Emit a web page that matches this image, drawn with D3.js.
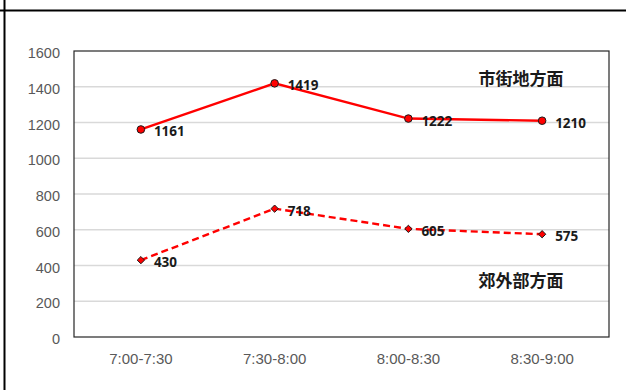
<!DOCTYPE html>
<html>
<head>
<meta charset="utf-8">
<script src="https://cdn.jsdelivr.net/npm/d3@7/dist/d3.min.js"></script>
<style>
  html, body { margin: 0; padding: 0; background: #fff; }
  svg { display: block; }
</style>
</head>
<body>
<svg id="chart" width="626" height="390"></svg>
<script>
// Traffic volume by time slot, two directions
const categories = ["7:00-7:30", "7:30-8:00", "8:00-8:30", "8:30-9:00"];
const urbanValues = [1161, 1419, 1222, 1210];     // 市街地方面
const suburbValues = [430, 718, 605, 575];        // 郊外部方面
const seriesNames = ["市街地方面", "郊外部方面"];
const yTicks = [0, 200, 400, 600, 800, 1000, 1200, 1400, 1600];

const svg = d3.select("#chart");
const W = 626, H = 390;
const plot = { left: 74, right: 609, top: 51, bottom: 337 };

// outer frame pieces
svg.append("line").attr("x1", 0).attr("x2", W).attr("y1", 10.5).attr("y2", 10.5)
  .attr("stroke", "#000").attr("stroke-width", 2.2);
svg.append("line").attr("x1", 4.5).attr("x2", 4.5).attr("y1", 0).attr("y2", H)
  .attr("stroke", "#000").attr("stroke-width", 2);

const x = d3.scaleBand().domain(categories).range([plot.left, plot.right]).padding(0);
const y = d3.scaleLinear().domain([0, 1600]).range([plot.bottom, plot.top]);
const cx = d => x(d) + x.bandwidth() / 2;

// horizontal gridlines
svg.append("g").selectAll("line").data(yTicks.filter(t => t > 0 && t < 1600)).join("line")
  .attr("x1", plot.left).attr("x2", plot.right)
  .attr("y1", d => y(d)).attr("y2", d => y(d))
  .attr("stroke", "#d9d9d9").attr("stroke-width", 1.5);

// plot border
svg.append("rect")
  .attr("x", plot.left).attr("y", plot.top)
  .attr("width", plot.right - plot.left).attr("height", plot.bottom - plot.top)
  .attr("fill", "none").attr("stroke", "#262626").attr("stroke-width", 1.2);

// y axis labels
const yAxis = d3.axisLeft(y).tickValues(yTicks).tickFormat(d3.format("d")).tickSize(0).tickPadding(14);
const gy = svg.append("g").attr("transform", `translate(${plot.left},0)`).call(yAxis);
gy.select(".domain").remove();
gy.selectAll("text")
  .attr("font-family", "'Liberation Sans', Arial, sans-serif")
  .attr("font-size", 14.5).attr("fill", "#595959").attr("dy", "0.45em");

// x axis labels
const xAxis = d3.axisBottom(x).tickSize(0).tickPadding(16);
const gx = svg.append("g").attr("transform", `translate(0,${plot.bottom})`).call(xAxis);
gx.select(".domain").remove();
gx.selectAll("text")
  .attr("font-family", "'Liberation Sans', Arial, sans-serif")
  .attr("font-size", 15).attr("fill", "#595959");

const line = d3.line().x((d, i) => cx(categories[i])).y(d => y(d));

// 市街地方面: solid line with round markers
svg.append("path").datum(urbanValues).attr("d", line)
  .attr("fill", "none").attr("stroke", "#ff0000").attr("stroke-width", 2.4);
svg.append("g").selectAll("circle").data(urbanValues).join("circle")
  .attr("cx", (d, i) => cx(categories[i])).attr("cy", d => y(d)).attr("r", 3.8)
  .attr("fill", "#ff0000").attr("stroke", "#1a1a1a").attr("stroke-width", 1);

// 郊外部方面: dashed line with diamond markers
svg.append("path").datum(suburbValues).attr("d", line)
  .attr("fill", "none").attr("stroke", "#ff0000").attr("stroke-width", 2.4)
  .attr("stroke-dasharray", "7,4");
const diamond = d3.symbol().type(d3.symbolDiamond2).size(34);
svg.append("g").selectAll("path").data(suburbValues).join("path")
  .attr("d", diamond)
  .attr("transform", (d, i) => `translate(${cx(categories[i])},${y(d)})`)
  .attr("fill", "#ff0000").attr("stroke", "#1a1a1a").attr("stroke-width", 1);

// value labels
function valueLabels(values) {
  svg.append("g").selectAll("text").data(values).join("text")
    .attr("x", (d, i) => cx(categories[i]) + 13)
    .attr("y", d => y(d) + 7)
    .attr("font-family", "'Open Sans', 'DejaVu Sans', sans-serif")
    .attr("font-weight", "bold").attr("font-size", 13.5).attr("fill", "#1a1a1a")
    .text(d => d);
}
valueLabels(urbanValues);
valueLabels(suburbValues);

// series names
const nameY = [85, 287];
svg.append("g").selectAll("text").data(seriesNames).join("text")
  .attr("x", 521).attr("y", (d, i) => nameY[i])
  .attr("text-anchor", "middle")
  .attr("font-family", "'Noto Sans CJK JP', sans-serif")
  .attr("font-weight", "bold").attr("font-size", 17).attr("fill", "#1a1a1a")
  .text(d => d);
</script>
</body>
</html>
